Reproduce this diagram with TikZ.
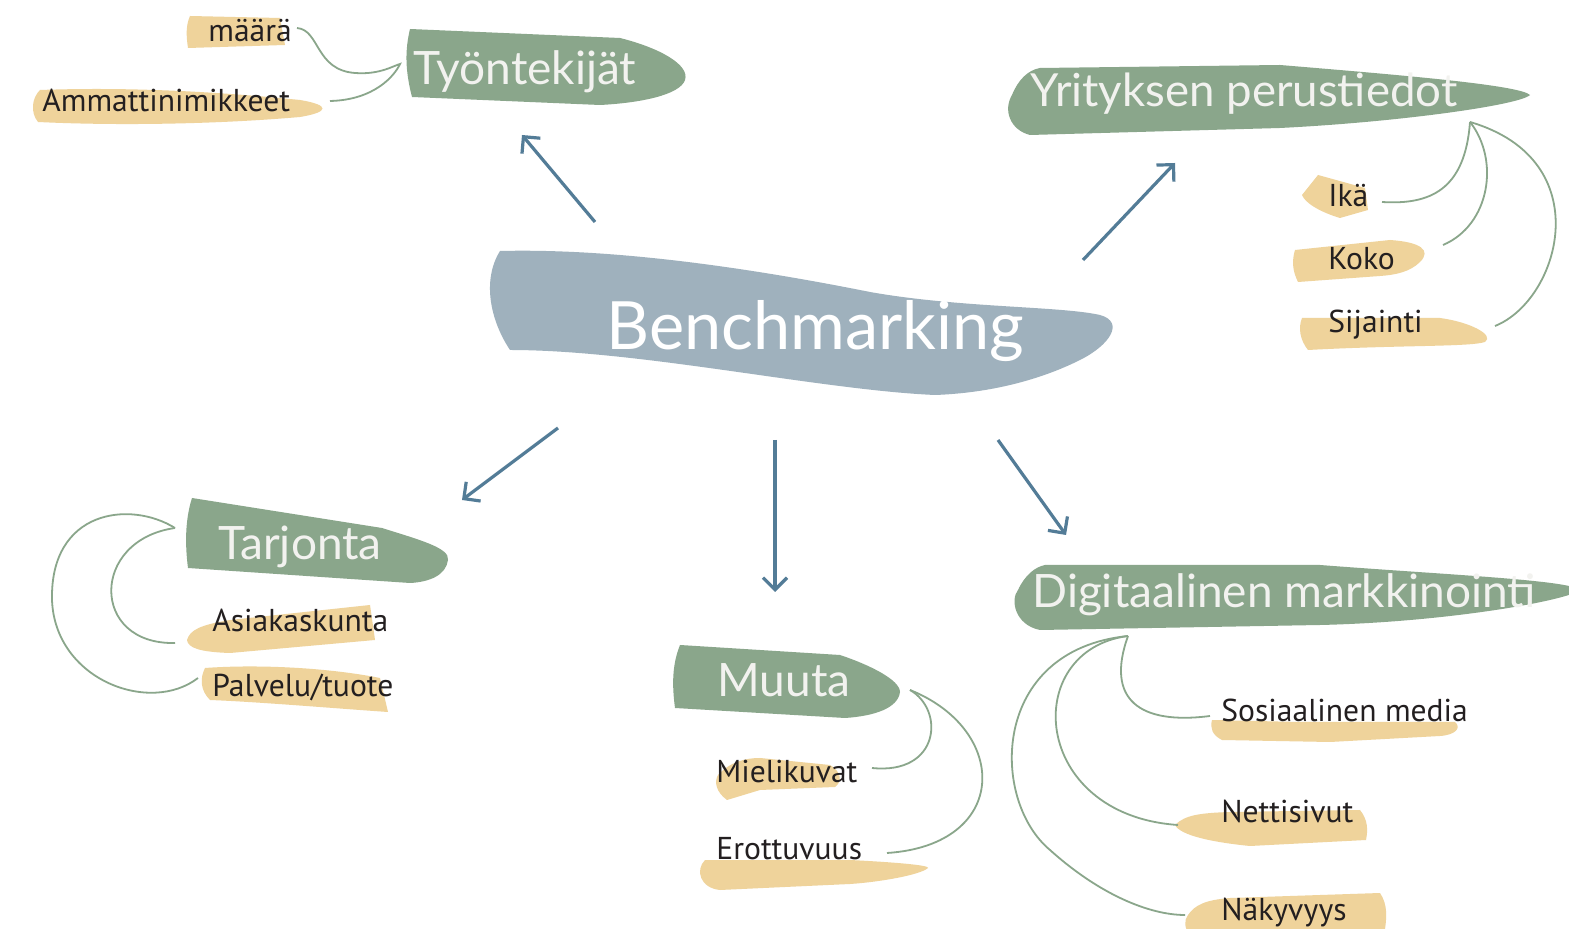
\documentclass[tikz,border=0pt]{standalone}
\usepackage{fontspec}
\setmainfont{PT Sans}
\newfontfamily\titlefont{Lato}
\usetikzlibrary{arrows.meta}
\definecolor{blobblue}{HTML}{9FB1BD}
\definecolor{leaf}{HTML}{8AA68B}
\definecolor{sand}{HTML}{EFD39B}
\definecolor{arrowblue}{HTML}{537C97}
\definecolor{ink}{HTML}{231F20}
\definecolor{paletext}{HTML}{F2F2EF}
\tikzset{
  title/.style={anchor=base west, inner sep=0pt, text=paletext, font=\titlefont\fontsize{23}{27}\selectfont},
  label/.style={anchor=base west, inner sep=0pt, text=ink, font=\fontsize{15.8}{19}\selectfont},
  conn/.style={draw=leaf, line width=0.9pt},
  flow/.style={draw=arrowblue, line width=1.6pt, -{Straight Barb[length=6pt,width=12pt,line width=1.6pt]}},
}
\begin{document}
\begin{tikzpicture}[x=0.5pt, y=-0.5pt]
\clip (0,0) rectangle (1569,929);
\fill[white] (0,0) rectangle (1569,929);

% ---- brush-stroke backgrounds ----
% centre
\fill[blobblue] (500,251) .. controls (620,248) and (760,270) .. (870,292)
  .. controls (960,308) and (1060,306) .. (1100,315)
  .. controls (1125,322) and (1110,345) .. (1080,360)
  .. controls (1040,380) and (990,393) .. (935,395)
  .. controls (820,390) and (640,350) .. (510,350)
  .. controls (490,320) and (482,280) .. (500,251) -- cycle;
% green headings
\fill[leaf] (410,29) -- (620,38) .. controls (660,48) and (690,65) .. (685,80)
  .. controls (680,95) and (640,103) .. (600,105) -- (412,97)
  .. controls (405,70) and (405,50) .. (410,29) -- cycle;
\fill[leaf] (1040,68) -- (1280,65) .. controls (1400,75) and (1520,85) .. (1530,95)
  .. controls (1520,105) and (1400,122) .. (1280,128) -- (1030,135)
  .. controls (1010,130) and (1003,110) .. (1012,95)
  .. controls (1018,80) and (1028,70) .. (1040,68) -- cycle;
\fill[leaf] (192,498) -- (382,528) .. controls (420,540) and (450,548) .. (448,560)
  .. controls (446,575) and (430,582) .. (410,583) -- (188,568)
  .. controls (185,545) and (185,520) .. (192,498) -- cycle;
\fill[leaf] (680,645) -- (840,655) .. controls (870,665) and (900,680) .. (900,692)
  .. controls (898,708) and (875,716) .. (845,718) -- (675,708)
  .. controls (672,685) and (672,665) .. (680,645) -- cycle;
\fill[leaf] (1045,565) -- (1320,565) .. controls (1450,575) and (1569,580) .. (1580,590)
  .. controls (1569,600) and (1450,622) .. (1320,625) -- (1040,630)
  .. controls (1015,625) and (1010,600) .. (1018,590)
  .. controls (1025,575) and (1035,567) .. (1045,565) -- cycle;
% sand highlights
\fill[sand] (190,16) -- (280,18) -- (285,45) -- (188,48) .. controls (186,35) and (186,25) .. (190,16) -- cycle;
\fill[sand] (40,90) .. controls (150,86) and (250,95) .. (300,100) .. controls (330,105) and (330,112) .. (300,117)
  .. controls (220,124) and (120,126) .. (38,122) .. controls (30,112) and (32,98) .. (40,90) -- cycle;
\fill[sand] (1318,175) -- (1365,188) -- (1368,210) -- (1340,218) .. controls (1320,212) and (1305,203) .. (1302,195) -- cycle;
\fill[sand] (1295,250) -- (1390,240) .. controls (1420,242) and (1432,250) .. (1420,262)
  .. controls (1410,272) and (1395,275) .. (1380,276) -- (1298,282) .. controls (1292,270) and (1292,260) .. (1295,250) -- cycle;
\fill[sand] (1302,318) -- (1440,318) .. controls (1470,322) and (1495,335) .. (1485,342)
  .. controls (1470,347) and (1400,345) .. (1308,350) .. controls (1300,340) and (1298,328) .. (1302,318) -- cycle;
\fill[sand] (187,640) .. controls (190,630) and (200,625) .. (230,620) -- (370,605) -- (375,640)
  -- (230,653) .. controls (200,652) and (188,648) .. (187,640) -- cycle;
\fill[sand] (205,668) .. controls (260,664) and (330,668) .. (380,678) -- (388,712)
  .. controls (330,708) and (260,702) .. (210,700) .. controls (200,690) and (200,678) .. (205,668) -- cycle;
\fill[sand] (718,775) .. controls (730,762) and (745,758) .. (760,758) -- (830,765)
  .. controls (842,772) and (842,782) .. (835,787) -- (760,790) -- (727,800)
  .. controls (716,792) and (714,782) .. (718,775) -- cycle;
\fill[sand] (705,860) -- (850,860) .. controls (890,862) and (930,865) .. (928,868)
  .. controls (920,875) and (880,882) .. (850,884) -- (720,890)
  .. controls (700,888) and (695,870) .. (705,860) -- cycle;
\fill[sand] (1212,720) -- (1300,722) -- (1455,722) .. controls (1462,728) and (1455,735) .. (1440,736)
  -- (1330,742) -- (1222,740) .. controls (1212,735) and (1210,728) .. (1212,720) -- cycle;
\fill[sand] (1175,825) .. controls (1185,815) and (1200,813) .. (1230,812) -- (1360,810)
  .. controls (1368,820) and (1368,830) .. (1366,840) -- (1250,846)
  .. controls (1210,842) and (1180,835) .. (1175,825) -- cycle;
\fill[sand] (1188,915) .. controls (1195,905) and (1205,900) .. (1230,898) -- (1380,893)
  .. controls (1388,905) and (1387,918) .. (1384,935) -- (1190,935)
  .. controls (1184,928) and (1184,920) .. (1188,915) -- cycle;

% ---- texts ----
\node[anchor=base west, inner sep=0pt, text=white, font=\titlefont\fontsize{33.3}{38}\selectfont] (bench) at (606,350) {Benchmarking};
\node[title] (tyo) at (413,85) {Työntekijät};
\node[title, font=\titlefont\fontsize{22.8}{27}\selectfont] (yri) at (1030,107) {Yrityksen perustiedot};
\node[title] (tar) at (218,560) {Tarjonta};
\node[title] (muu) at (717,697) {Muuta};
\node[title] (dig) at (1032,608) {Digitaalinen markkinointi};

\node[label] (maara) at (208,42) {määrä};
\node[label] (amm) at (42,112) {Ammattinimikkeet};
\node[label] (ika) at (1328,207) {Ikä};
\node[label] (koko) at (1328,270) {Koko};
\node[label] (sij) at (1328,333) {Sijainti};
\node[label] (asi) at (212,632) {Asiakaskunta};
\node[label] (pal) at (212,697) {Palvelu/tuote};
\node[label] (mie) at (716,783) {Mielikuvat};
\node[label] (ero) at (716,860) {Erottuvuus};
\node[label] (sos) at (1221,722) {Sosiaalinen media};
\node[label] (net) at (1221,822) {Nettisivut};
\node[label] (nak) at (1221,920) {Näkyvyys};

% ---- arrows out of the centre ----
\coordinate (fromNW) at (595,222);  \coordinate (toNW) at (522,135);
\coordinate (fromNE) at (1083,260); \coordinate (toNE) at (1175,163);
\coordinate (fromSW) at (558,428);  \coordinate (toSW) at (462,500);
\coordinate (fromS) at (775,440);   \coordinate (toS) at (775,592);
\coordinate (fromSE) at (998,440);  \coordinate (toSE) at (1066,535);
\draw[flow] (fromNW) -- (toNW);
\draw[flow] (fromNE) -- (toNE);
\draw[flow] (fromSW) -- (toSW);
\draw[flow] (fromS) -- (toS);
\draw[flow] (fromSE) -- (toSE);

% ---- branch connectors ----
\coordinate (jTyo) at (400,64);
\coordinate (eMaara) at (297,28);
\coordinate (eAmm) at (330,101);
\draw[conn] (eMaara) .. controls (320,30) and (315,70) .. (355,73)
  .. controls (380,75) and (395,65) .. (jTyo)
  .. controls (395,75) and (375,100) .. (eAmm);

\coordinate (jYri) at (1470,122);
\coordinate (eIka) at (1382,202);
\coordinate (eKoko) at (1443,245);
\coordinate (eSij) at (1495,326);
\draw[conn] (jYri) .. controls (1465,190) and (1430,205) .. (eIka);
\draw[conn] (jYri) .. controls (1500,160) and (1490,225) .. (eKoko);
\draw[conn] (jYri) .. controls (1600,160) and (1560,300) .. (eSij);

\coordinate (jTar) at (175,528);
\coordinate (eAsi) at (175,643);
\coordinate (ePal) at (198,678);
\draw[conn] (jTar) .. controls (90,540) and (90,645) .. (eAsi);
\draw[conn] (jTar) .. controls (130,500) and (50,510) .. (52,600)
  .. controls (55,680) and (150,715) .. (ePal);

\coordinate (jMuu) at (910,690);
\coordinate (eMie) at (872,768);
\coordinate (eEro) at (887,853);
\draw[conn] (jMuu) .. controls (945,710) and (940,775) .. (eMie);
\draw[conn] (jMuu) .. controls (1010,730) and (1010,845) .. (eEro);

\coordinate (jDig) at (1128,636);
\coordinate (eSos) at (1210,716);
\coordinate (eNet) at (1178,825);
\coordinate (eNak) at (1185,915);
\draw[conn] (jDig) .. controls (1105,700) and (1140,725) .. (eSos);
\draw[conn] (jDig) .. controls (1020,650) and (1030,815) .. (eNet);
\draw[conn] (jDig) .. controls (990,650) and (990,800) .. (1050,850)
  .. controls (1100,895) and (1150,915) .. (eNak);
\end{tikzpicture}
\end{document}
